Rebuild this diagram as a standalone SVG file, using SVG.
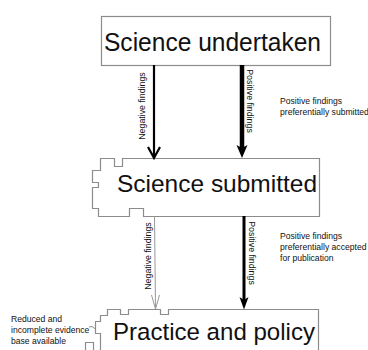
<svg xmlns="http://www.w3.org/2000/svg" width="368" height="350" viewBox="0 0 368 350">
<style>
.box{fill:#fff;stroke:#8c8c8c;stroke-width:1.2}
.big{font-family:"Liberation Sans",Arial,sans-serif;fill:#111}
.sm{font-family:"Liberation Sans",Arial,sans-serif;font-size:8.6px;fill:#111}
.lbl{font-family:"Liberation Sans",Arial,sans-serif;font-size:8.8px;fill:#111}
</style>
<rect width="368" height="350" fill="#fff"/>
<g id="node-undertaken">
<rect class="box" x="101.5" y="16.5" width="229" height="49"/>
<text class="big" x="104" y="51" font-size="26" textLength="217" lengthAdjust="spacingAndGlyphs">Science undertaken</text>
</g>
<g id="node-submitted">
<path class="box" d="M100.5,158.5 H114.5 V166.5 H122.5 V158.5 H319.5 V216.5 H143.5 V208.5 H129.5 V216.5 H98.5 V208.5 H92.5 V187.5 H98.5 V182.5 H92.5 V170.5 H100.5 Z"/>
<text class="big" x="117" y="192" font-size="24.5" textLength="200" lengthAdjust="spacingAndGlyphs">Science submitted</text>
</g>
<g id="node-practice">
<path class="box" d="M318.5,352 V309.5 H168.5 V314.5 H160.5 V309.5 H128.5 V314.5 H120.5 V309.5 H107.5 V315.5 H100.5 V321.5 H95.5 V333.5 H100.5 V352"/>
<path class="box" fill="none" d="M85.5,352 V342.5 H93.5 V352"/>
<path d="M89,327 L92,326.5 L95.5,329" fill="none" stroke="#8c8c8c" stroke-width="1"/>
<text class="big" x="113" y="340" font-size="24.5" textLength="202" lengthAdjust="spacingAndGlyphs">Practice and policy</text>
</g>
<g id="connectors">
<line x1="154" y1="65" x2="154" y2="156" stroke="#000" stroke-width="2.2"/>
<path d="M148,147 L154,158 L160,147" fill="none" stroke="#000" stroke-width="2.2"/>
<line x1="242" y1="65" x2="242" y2="150" stroke="#000" stroke-width="4.5"/>
<path d="M236.5,145 L242,158 L247.5,145 L242,148 Z" fill="#000"/>
<line x1="154.5" y1="216" x2="155.5" y2="309" stroke="#999" stroke-width="1"/>
<path d="M151.5,295 L155.5,309 L159.5,295" fill="none" stroke="#999" stroke-width="1"/>
<line x1="244" y1="216" x2="244" y2="302" stroke="#000" stroke-width="3"/>
<path d="M239.5,297 L244,309.5 L248.5,297 L244,300 Z" fill="#000"/>
</g>
<g id="labels">
<text class="lbl" transform="translate(145,106) rotate(-90)" text-anchor="middle">Negative findings</text>
<text class="lbl" transform="translate(247,101) rotate(90)" text-anchor="middle">Positive findings</text>
<text class="lbl" transform="translate(151,256) rotate(-90)" text-anchor="middle">Negative findings</text>
<text class="lbl" transform="translate(249,253) rotate(90)" text-anchor="middle">Positive findings</text>
<text class="sm" x="280" y="104">Positive findings</text>
<text class="sm" x="280" y="115">preferentially submitted</text>
<text class="sm" x="280" y="239">Positive findings</text>
<text class="sm" x="280" y="250">preferentially accepted</text>
<text class="sm" x="280" y="261">for publication</text>
<text class="sm" x="11" y="322">Reduced and</text>
<text class="sm" x="11" y="333">incomplete evidence</text>
<text class="sm" x="11" y="344">base available</text>
</g>
</svg>
